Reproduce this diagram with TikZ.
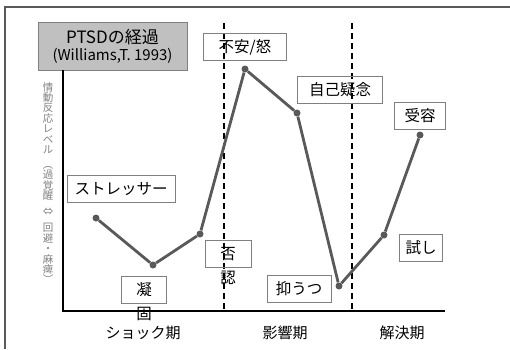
\documentclass[tikz,border=0pt]{standalone}
\usepackage{fontspec}
\setmainfont{Noto Sans CJK JP}
\usetikzlibrary{positioning}
\definecolor{curvegray}{HTML}{595959}
\definecolor{boxgray}{HTML}{808080}
\definecolor{titlegray}{HTML}{C0C0C0}

\begin{document}
\begin{tikzpicture}[x=1pt, y=-1pt]
		\useasboundingbox (0,0) rectangle (510,349);
		% frame
		\draw [curvegray, line width=2pt] (5,349) -- (5,7) -- (510,7);

		% title
		\node [draw=boxgray, fill=titlegray, line width=1pt, minimum width=149pt, minimum height=48pt, align=center, inner sep=0pt] (title) at (112.5,46)
			{\fontsize{17}{20}\selectfont PTSDの経過\\[2pt]\fontsize{15}{18}\selectfont (Williams,T. 1993)};

		% axes and phases
		\coordinate (o) at (63,311);
		\coordinate (ytop) at (63,70);
		\coordinate (xend) at (445,311);
		\coordinate (d1top) at (224,23);
		\coordinate (d1bot) at (224,311);
		\coordinate (d2top) at (352,23);
		\coordinate (d2bot) at (352,311);
		\draw [dashed, line width=1.5pt, dash pattern=on 6pt off 4pt] (d1top) -- (d1bot);
		\draw [dashed, line width=1.5pt, dash pattern=on 6pt off 4pt] (d2top) -- (d2bot);
		\draw [line width=1.6pt] (ytop) -- (o) -- (xend);

		\tikzstyle{every node} = [font=\fontsize{15}{16}\selectfont]
		\node (shock) at (143,333) {ショック期};
		\node (impact) at (285,333) {影響期};
		\node (resolve) at (402,333) {解決期};

		% vertical axis label
		\node [text=gray, font=\fontsize{10.5}{10.4}\selectfont, inner sep=0pt, align=center, anchor=north] (ylabel) at (48,82)
			{情\\動\\反\\応\\レ\\ベ\\ル\\[4.6pt]︵\\過\\覚\\醒\\[5.5pt]⇔\\[6pt]回\\避\\・\\麻\\痺\\︶};

		% labels
		\tikzstyle{every node} = [draw=boxgray, line width=0.8pt, minimum height=27pt, inner sep=0pt, font=\fontsize{15.5}{16}\selectfont]
		\node [minimum width=108pt] (stressor) at (121,189) {ストレッサー};
		\node [minimum width=45pt] (gyoko) at (144,290) {凝};
		\node [minimum width=46pt] (hinin) at (228,254) {否};
		\node [minimum width=83pt] (anger) at (245,47) {不安/怒};
		\node [minimum width=85pt] (doubt) at (340,90) {自己疑念};
		\node [minimum width=64pt] (depress) at (299,289) {抑うつ};
		\node [minimum width=43pt] (trial) at (421,248) {試し};
		\node [minimum width=51pt] (accept) at (420,116) {受容};
		\tikzstyle{every node} = [draw=none, inner sep=0pt, font=\fontsize{15.5}{16}\selectfont]
		\node [below=3pt of gyoko] (gyoko2) {固};
		\node [below=3pt of hinin] (hinin2) {認};

		% curve
		\tikzstyle{every node} = [circle, fill=curvegray, inner sep=0pt, minimum size=7pt]
		\node (1) at (96,218) {};
		\node (2) at (153,265) {};
		\node (3) at (200,234) {};
		\node (4) at (245,69) {};
		\node (5) at (297,113) {};
		\node (6) at (339,286) {};
		\node (7) at (384,235) {};
		\node (8) at (420,135) {};
		\draw [curvegray, line width=2.8pt] (1) -- (2) -- (3) -- (4) -- (5) -- (6) -- (7) -- (8);
\end{tikzpicture}
\end{document}
